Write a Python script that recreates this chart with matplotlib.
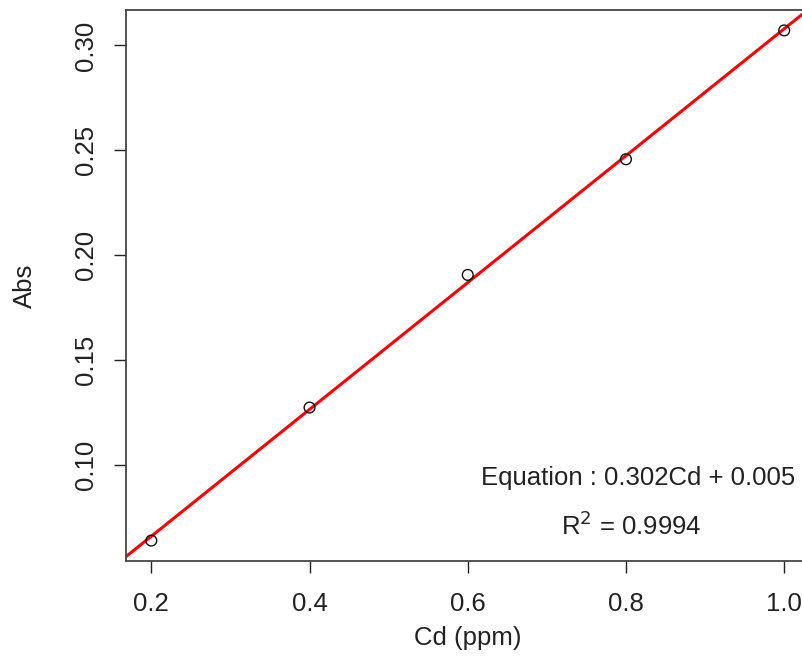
import numpy as np
import matplotlib
matplotlib.use("Agg")
import matplotlib.pyplot as plt

# calibration data
cd_ppm = [0.2, 0.4, 0.6, 0.8, 1.0]
abs_vals = [0.0637, 0.1272, 0.1905, 0.2457, 0.3072]
x_ticks = [0.2, 0.4, 0.6, 0.8, 1.0]
y_ticks = [0.10, 0.15, 0.20, 0.25, 0.30]

plt.rcParams['font.family'] = ['Liberation Sans', 'DejaVu Sans']

fig = plt.figure(figsize=(8.02, 6.62), dpi=100)
ax = fig.add_axes([126/802, 101/662, 683.5/802, 551/662])

# R-style 4% padding
xr = max(cd_ppm) - min(cd_ppm)
yr = max(abs_vals) - min(abs_vals)
ax.set_xlim(min(cd_ppm) - 0.04*xr, max(cd_ppm) + 0.04*xr)
ax.set_ylim(min(abs_vals) - 0.04*yr, max(abs_vals) + 0.04*yr)

slope, intercept = np.polyfit(cd_ppm, abs_vals, 1)
ax.axline((0, intercept), slope=slope, color='#ff0000', lw=2.2, zorder=2)
ax.scatter(cd_ppm, abs_vals, s=60, facecolors='none', edgecolors='#111111',
           linewidths=1.0, zorder=3)

fs = 18.5
ax.text(0.815, 0.0938, "Equation : 0.302Cd + 0.005", ha='center', va='center',
        fontsize=fs, color='#222222')
ax.text(0.807, 0.0709, r"R$^2$ = 0.9994", ha='center', va='center',
        fontsize=fs, color='#222222')

ax.set_xticks(x_ticks)
ax.set_xticklabels(["0.2", "0.4", "0.6", "0.8", "1.0"])
ax.set_yticks(y_ticks)
ax.set_yticklabels(["0.10", "0.15", "0.20", "0.25", "0.30"], rotation=90,
                   va='center')
ax.tick_params(direction='out', length=8.5, width=1, labelsize=fs,
               colors='#222222', labelcolor='#222222')
ax.tick_params(axis='x', pad=14)
ax.tick_params(axis='y', pad=12)
for s in ax.spines.values():
    s.set_color('#444444')
    s.set_linewidth(1.3)

ax.set_xlabel("Cd (ppm)", fontsize=fs, labelpad=7, color='#222222')
ax.set_ylabel("Abs", fontsize=fs, labelpad=26, color='#222222')

fig.savefig("out.png", dpi=100)
